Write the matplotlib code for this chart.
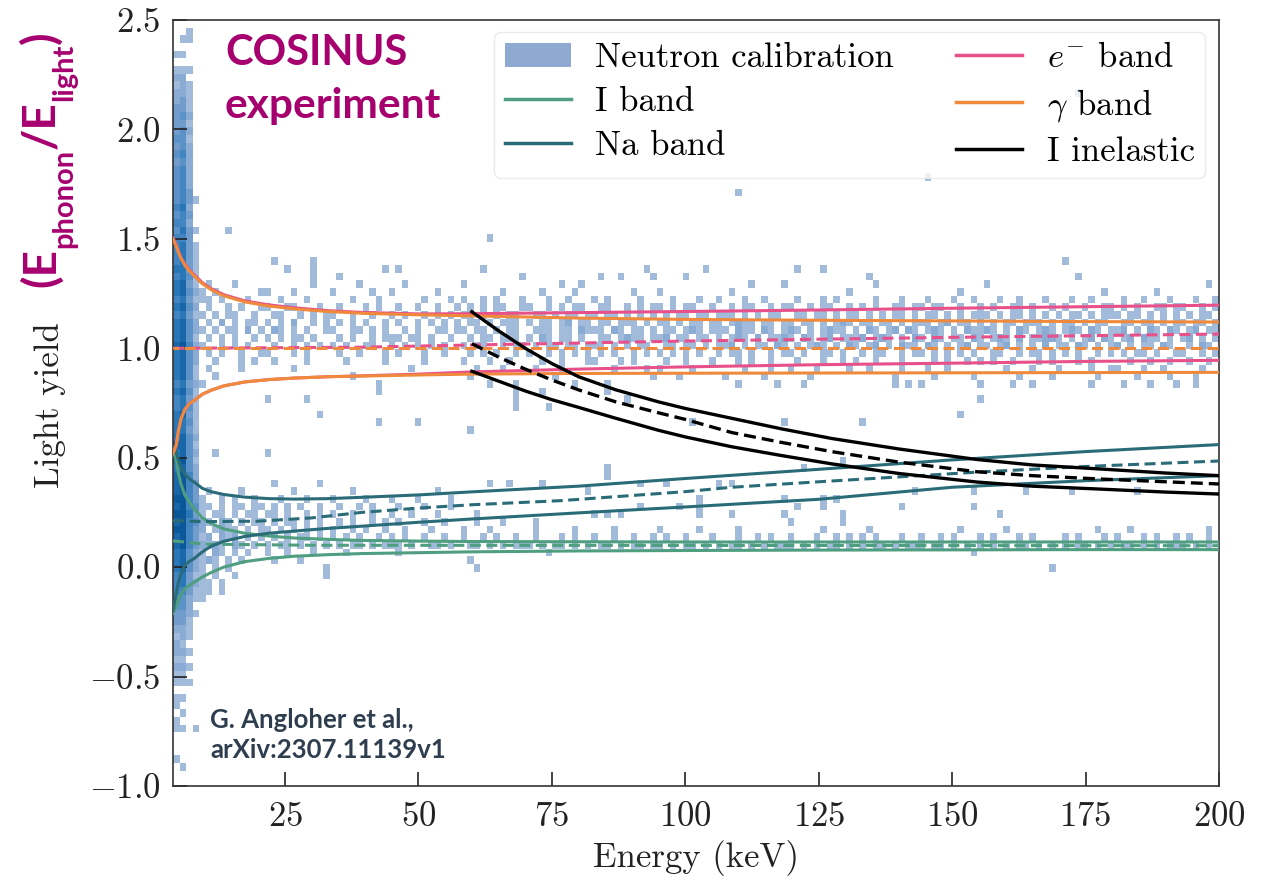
import numpy as np
import matplotlib
matplotlib.use("Agg")
import matplotlib.pyplot as plt
from matplotlib.colors import LinearSegmentedColormap, Normalize
from matplotlib.patches import Patch
from matplotlib.lines import Line2D

plt.rcParams.update({
    "font.family": "serif",
    "font.serif": ["cmr10"],
    "mathtext.fontset": "cm",
    "axes.formatter.use_mathtext": True,
})

# ---------------- neutron calibration histogram (counts per cell) ----------------
E_EDGES = np.linspace(4.0, 200.0, 161)     # 160 energy bins
LY_EDGES = np.linspace(-1.0, 2.5, 101)     # 100 light-yield bins

# columns 0-3 (lowest energies), rows 0..99 from bottom to top
LEFT_STRIP = [
    "...1...11. 11.1121221 2334455566 6778787877 7676766665 5656666766 6565665655 5545454444 4343433332 2121.1....",
    "..1....1.1 .1.1121212 2334456677 7888989888 8787776676 6767777877 7676776666 6565565555 5454443433 2221.1.1..",
    ".......... ...1.1.1.1 1122233344 4555565555 5444443434 3434444544 4343434333 3332323322 2222121211 11.1...11.",
    ".......1.. .......... ..1.112122 2333434333 2212121111 1121122212 2121211111 1.1...1... .......... ..........",
]

# rows of columns 4..159 (groups of ten columns)
BAND_ROWS = {
    72: "....1.....",
    71: ".......... .......... .......... .......... ....1.....",
    68: ".......... .1.....1.. .......... .......... .......... .......... .......... .......... .......... .......... .......... .......... .......... ..1.......",
    67: ".......... ...1...1.. ........1. 1......... ...1...... .......... ........1. .......1.. .......... .1...1....",
    66: ".......... .......1.. .1........ .......... .........1 .......... .1..1....1 ....1..... .......... .......... ..1....... .......... .......... ....1.....",
    65: ".1...1.... .......1.. ....1..... .1........ 1......... .....1..1. .......... .......... ....1....1 .......... ...1...... .......... 1......... .......... .......... ....1.",
    64: "1.1......1 1...1..... 1.....1..1 ......1... ......1... ..1....1.. ......1... 1......... .1........ .........1 .......... ......1... .......... ........1. ......1...",
    63: "11.1...1.. ..1...1... ...1...1.. ....1...1. 1..1.1...1 ...1..1... 1.1....1.. ..1...1..1 ...1..1... .1...1.1.. ...1...1.. .1...1..1. ..1..1...1 ...1..1... .1..1...1. ..1..1",
    62: ".1..1.1..1 1..11...1. .1...1.1.. 1..1..1..1 .1.1.11..1 1..1.1.11. .11..1.1.1 1.1.11..1. .1.11..1.1 1..1.11..1 .1.1..11.1 1.11..1..1 .1..11.1.. 1.1..1..11 .1.1..11.1 1..1.1",
    61: "1.1.11..1. .11..1.1.1 1..1..1..1 .1..1.1.1. 11.1.1.11. .11.1.11.1 1.11.1.1.1 .1.11.11.1 11.1.1.11. .11.11.1.1 1.1.1.11.1 .11.1.1.11 1.1.11.1.1 .1.11.1.11 1.11.1.1.1 .1.11.",
    60: ".1.2.1.11. 1.1.2..1.1 .1.1.1..1. 1..1.1.1.1 .11.1.111. 1.11.12.11 .11.111.1. 11.1.11.11 .1211.11.1 1.11.1.121 .11.11.1.1 11.12.11.1 .1.11.111. 1.11.1.11. .11.11.1.1 1.11.1",
    59: "1.1.11.2.1 .21.1.1..1 1..11.1.1. .1.1..11.1 1.11.1.11. .111.11.21 11.21.11.1 .11.121.11 1.211.21.1 21.1.1211. 1.21.12.21 .121.1.211 21.1.21.12 1.121.21.1 12.1.21.21 .12.11",
    58: ".1.1.1..1. 1.1.11.1.. .1.1..1.11 1.11.1..1. .1.11.111. 1.21.11.1. .11.1211.1 12.11.11.1 .121.2.112 1.21.12.11 12.121.1.2 1.21.11.21 .121.2.112 21.1.12.21 .12.211.1. 12.1.1",
    57: "1..1.1.1.. .1..1.1.1. 1.1..11..1 .1.1.1.1.. 1.11..1.11 .1.11.11.1 11.1.1.11. .11.11.1.1 12.1.11.21 .1.121.1.2 1.12.1.211 .21.1.12.1 1.12.1.1.2 .11.21.1.1 2.1.11.21. .1.21.",
    56: ".1.1..1..1 1...1.1... .1..1...1. 1...1..1.. .1.1.1..1. 1..1.1.1.1 .1.1..1.1. 1.1.1.1..1 .11.1..1.1 1.1..11.1. .1.11..1.1 1.1.1.1.1. .11..1.11. 1.1.1..1.1 .1.11.1..1 1..1.1",
    55: "..1...1.1. .1....1... ..1.....1. ....1..... 1...1..1.. ..1..1...1 1...1.1... .1..1...1. ..1.1..1.. .1...1..1. 1..1...1.. ..1.1..1.1 .1..1...1. 1...1.1... ..1..1..1. .1..1.",
    54: ".1....1... ....1..... .......... ..1....... ..1...1... .1...1.... ...1....1. 1....1.... ...1...1.. 1...1....1 ..1....1.. .1..1..... ...1...1.. .1....1..1 1...1..1.. ...1..",
    53: "..1....... .......... ...1...... .......... .1........ ....1..... .........1 ...1...... 1.....1... ...1...... ......1... ..1.....1. .....1.... 1......1.. ...1....1. ..1...",
    52: "1......... .......... .......1.. .......... ....1...1. .......1.. ..1....... .......... ..1.....1. ..1....... ......1.1. 1........1 ....1..1.. ......1... .1...1...1 ..1...",
    51: ".......... .......... .......1.. .......... ........1. ..1....... ..1.......",
    50: ".......... 1.....1... .......... .......... ........1. .......... .....1.... .......... .......... .......... .......... .........1",
    49: ".......... .......... .......... .......... ........1. ...1......",
    48: ".......... ........1. .......... .......... .......... .......... .......... .......... .......... .......... .......... ......1...",
    47: ".......... .......... .......1.. ...1...... .......... .......... .......... .....1.... .........1 .......... .1........",
    46: ".......... .......... .......... .......... .1........",
    43: "..1....... 1.........",
    42: ".......... .......... .......... .......... .......... .......... .......... .......... .......... ........1.",
    41: ".......... .......... .......... .......... .......... .......... ..1....... .......... .......... ..1.......",
    40: ".......... .......... .......... .......... .......... .......... ..1.......",
    39: ".......... .1......1. .......... .......... ....1..1.. ..1....... .......1.. .1.......1 .1........",
    38: ".1....1... ....1..... ...1...... ......1... .......... .........1 .......... .......... .......... .......... .........1 ........1. ......1... ...1...... ...1......",
    37: "1..1.1..1. ..1...1... 1....1...1 ...1....1. .......... .......... .......... ......1... .........1 .....1.1..",
    36: "11.1.11.11 .1.1.1..1. .1..1.1... 1...1...1. .......... .......... .......1.. ...1..1... .......... .1...1.... .......1.. ........1.",
    35: "1.11.1.11. 11.1..1.1. 1..1..1..1 ..1...1... ..1....... .......... 1.1.1..... ......1... .1.......1 ........1. .......... .......... ..1.......",
    34: "21.21.1.11 .1.11.1.1. .1.1..1.1. 1...1..1.. ..1...1... .1........ .......... .......... .......... 1.......1.",
    33: "2.1211.1.1 1.1.1.1.1. 1..1.1..1. .1...1.... 1...1..... .1.....1.. ...1...... 1.....1... ..1....... .....1.... ..1....... ......1... ...1...... .......1.. ..1....... ....1.",
    32: "12.212.1.1 .1.1.11.1. 1.1.1..1.1 .1..1..1.. 1..1.1..1. .1...1.1.. 1..1..1..1 .1..1...1. ..1..1.1.. 1...1..1.1 .1.1...1.. 1..1.1...1 .1...1.1.. ..1.1...1. 1...1.1..1 .1..1.",
    31: "2121.21.1. 1.11.1.1.1 .1.11.1.11 1.1..11.1. .11.1.1.11 1.1.11.1.1 .11.1.11.1 1.1.11.1.1 .11.1.1.11 1.1.1.11.1 .1.11.1.11 1.11.1.1.1 .1.1.11.1. 1.1.11.1.1 .11.1.1.11 1.1.1.",
    30: "1.21.1.1.. 1..1...1.. ..1....... 1......... .......... ...1...... .......... .......... .......... .......... .......... ........1.",
    29: "121.1.1... .1...1.... .......... .......... .1........",
    28: "1.1.1..... .........1. .......... .......... .1........ .......... .......... .......... .......... .......... .......... .......... .........1",
    27: "1.1..1.... .........1.",
    26: "11.1......",
    25: "11.1......",
    24: "1.........",
}

# isolated cells (column, row)
STRAY_CELLS = [(115, 79), (138, 90), (86, 77)]

# ---------------- band curves (energy in keV, light yield) ----------------
E_BAND = [4.0, 4.6, 5.0, 5.5, 6.2, 7.0, 8.0, 9.5, 11.1, 13.5, 17.4, 22.0, 26.8,
          33.0, 39.3, 50.0, 60.0, 80.0, 100.0, 125.0, 150.0, 175.0, 200.0]

GAMMA_UP = [1.50, 1.466, 1.44, 1.41, 1.38, 1.355, 1.33, 1.295, 1.268, 1.24, 1.212, 1.193, 1.18,
            1.168, 1.16, 1.153, 1.148, 1.138, 1.132, 1.128, 1.125, 1.122, 1.12]
GAMMA_LO = [0.52, 0.556, 0.62, 0.678, 0.72, 0.745, 0.762, 0.79, 0.808, 0.828, 0.846, 0.857, 0.864,
            0.87, 0.873, 0.878, 0.882, 0.885, 0.886, 0.887, 0.888, 0.889, 0.89]
GAMMA_MEAN_E = [4.0, 200.0]
GAMMA_MEAN = [1.0, 1.0]

ELEC_UP = [1.505, 1.471, 1.445, 1.415, 1.385, 1.36, 1.335, 1.30, 1.273, 1.245, 1.217, 1.198, 1.185,
           1.172, 1.164, 1.157, 1.158, 1.163, 1.168, 1.175, 1.183, 1.19, 1.197]
ELEC_LO = [0.52, 0.556, 0.62, 0.678, 0.72, 0.745, 0.762, 0.79, 0.808, 0.828, 0.846, 0.857, 0.864,
           0.87, 0.874, 0.882, 0.892, 0.905, 0.915, 0.925, 0.932, 0.94, 0.945]
ELEC_MEAN_E = [4.0, 39.3, 60.0, 100.0, 150.0, 200.0]
ELEC_MEAN = [1.0, 1.005, 1.015, 1.033, 1.05, 1.065]

IODINE_UP = [0.53, 0.49, 0.43, 0.38, 0.33, 0.30, 0.266, 0.225, 0.20, 0.175, 0.155, 0.142, 0.133,
             0.127, 0.122, 0.119, 0.117, 0.116, 0.115, 0.115, 0.115, 0.115, 0.115]
IODINE_LO = [-0.21, -0.18, -0.15, -0.125, -0.10, -0.085, -0.068, -0.045, -0.025, 0.0, 0.025, 0.04, 0.05,
             0.057, 0.062, 0.066, 0.07, 0.074, 0.076, 0.078, 0.079, 0.08, 0.08]
IODINE_MEAN_E = [4.0, 10.0, 30.0, 200.0]
IODINE_MEAN = [0.12, 0.105, 0.1, 0.098]

SODIUM_UP = [0.55, 0.525, 0.49, 0.455, 0.425, 0.405, 0.388, 0.36, 0.345, 0.332, 0.32, 0.313, 0.311,
             0.313, 0.319, 0.33, 0.344, 0.37, 0.405, 0.447, 0.49, 0.528, 0.56]
SODIUM_LO = [-0.2, -0.12, -0.07, -0.03, 0.01, 0.025, 0.04, 0.07, 0.095, 0.118, 0.14, 0.155, 0.165,
             0.177, 0.187, 0.205, 0.22, 0.248, 0.275, 0.31, 0.365, 0.395, 0.418]
SODIUM_MEAN_E = [4.0, 10.0, 20.0, 30.0, 39.3, 50.0, 60.0, 76.8, 100.0, 108.7, 125.0, 154.6, 175.0, 200.0]
SODIUM_MEAN = [0.212, 0.208, 0.21, 0.225, 0.25, 0.27, 0.285, 0.304, 0.345, 0.365, 0.39, 0.434, 0.46, 0.485]

E_INEL = [60, 65, 70, 75, 80, 87, 95, 100, 108.7, 118, 127.4, 140, 154.6, 165, 177.4, 190, 200]
INEL_UP = [1.167, 1.08, 1.0, 0.93, 0.87, 0.81, 0.755, 0.725, 0.68, 0.632, 0.588, 0.54, 0.492,
           0.467, 0.449, 0.43, 0.418]
INEL_MEAN = [1.021, 0.96, 0.905, 0.855, 0.81, 0.755, 0.705, 0.675, 0.615, 0.57, 0.528, 0.48, 0.436,
             0.418, 0.403, 0.39, 0.38]
INEL_LO = [0.895, 0.85, 0.805, 0.765, 0.73, 0.68, 0.625, 0.595, 0.55, 0.51, 0.472, 0.428, 0.389,
           0.37, 0.357, 0.343, 0.334]

X_TICKS = [25, 50, 75, 100, 125, 150, 175, 200]
Y_TICKS = [-1.0, -0.5, 0.0, 0.5, 1.0, 1.5, 2.0, 2.5]

C_ELEC = "#e8508a"
C_GAMMA = "#ef8a3c"
C_IODINE = "#4f9e80"
C_SODIUM = "#2a6b78"
C_HIST = "#8eaad0"
MAGENTA = "#a6006f"

# ---------------- assemble the count grid ----------------
counts = np.zeros((len(LY_EDGES) - 1, len(E_EDGES) - 1))
for c, col in enumerate(LEFT_STRIP):
    for r, ch in enumerate(col.replace(" ", "")):
        if ch != ".":
            counts[r, c] = int(ch)
for r, row in BAND_ROWS.items():
    for i, ch in enumerate(row.replace(" ", "")[:156]):
        if ch != ".":
            counts[r, 4 + i] = int(ch)
for c, r in STRAY_CELLS:
    counts[r, c] = 1

cmap = LinearSegmentedColormap.from_list(
    "calib", ["#a2bbda", "#789fcd", "#4f8cc4", "#2474b5", "#0b5798"])

fig = plt.figure(figsize=(12.74, 8.84), dpi=100)
ax = fig.add_axes([173 / 1274, 1 - 786 / 884, 1046 / 1274, 766 / 884])

ax.pcolormesh(E_EDGES, LY_EDGES, np.ma.masked_equal(counts, 0), cmap=cmap,
              norm=Normalize(1, 8), shading="flat", zorder=1)

dash = (0, (3.6, 1.8))
lw = 2.2
ax.plot(E_BAND, IODINE_UP, color=C_IODINE, lw=lw, zorder=3)
ax.plot(E_BAND, IODINE_LO, color=C_IODINE, lw=lw, zorder=3)
ax.plot(IODINE_MEAN_E, IODINE_MEAN, color=C_IODINE, lw=lw, ls=dash, zorder=3)
ax.plot(E_BAND, SODIUM_UP, color=C_SODIUM, lw=lw, zorder=3)
ax.plot(E_BAND, SODIUM_LO, color=C_SODIUM, lw=lw, zorder=3)
ax.plot(SODIUM_MEAN_E, SODIUM_MEAN, color=C_SODIUM, lw=lw, ls=dash, zorder=3)
ax.plot(E_BAND, ELEC_UP, color=C_ELEC, lw=lw, zorder=4)
ax.plot(E_BAND, ELEC_LO, color=C_ELEC, lw=lw, zorder=4)
ax.plot(ELEC_MEAN_E, ELEC_MEAN, color=C_ELEC, lw=lw, ls=dash, zorder=4)
ax.plot(E_BAND, GAMMA_UP, color=C_GAMMA, lw=lw, zorder=5)
ax.plot(E_BAND, GAMMA_LO, color=C_GAMMA, lw=lw, zorder=5)
ax.plot(GAMMA_MEAN_E, GAMMA_MEAN, color=C_GAMMA, lw=lw, ls=(1.8, (3.6, 1.8)), zorder=5)
ax.plot(E_INEL, INEL_UP, color="black", lw=2.4, zorder=6)
ax.plot(E_INEL, INEL_MEAN, color="black", lw=2.4, ls=dash, zorder=6)
ax.plot(E_INEL, INEL_LO, color="black", lw=2.4, zorder=6)

ax.set_xlim(4.0, 200.0)
ax.set_ylim(-1.0, 2.5)
ax.set_xticks(X_TICKS)
ax.set_yticks(Y_TICKS)
ax.tick_params(axis="both", direction="in", length=10, width=1.2, labelsize=25, colors="#222222")
ax.tick_params(axis="x", pad=11)
ax.tick_params(axis="y", pad=9)
for s in ax.spines.values():
    s.set_linewidth(1.2)
    s.set_color("#333333")

fig.text(696 / 1274, 1 - 858 / 884, "Energy (keV)", ha="center", va="center", fontsize=25, color="#222222")
fig.text(50 / 1274, 1 - 405 / 884, "Light yield", ha="center", va="center", rotation=90,
         fontsize=25, color="#222222")

handles = [
    Patch(facecolor=C_HIST, edgecolor="none"),
    Line2D([], [], color=C_IODINE, lw=2.5),
    Line2D([], [], color=C_SODIUM, lw=2.5),
    Line2D([], [], color=C_ELEC, lw=2.5),
    Line2D([], [], color=C_GAMMA, lw=2.5),
    Line2D([], [], color="black", lw=2.5),
]
labels = ["Neutron calibration", "I band", "Na band", r"$e^{-}$ band", r"$\gamma$ band", "I inelastic"]
leg = ax.legend(handles, labels, ncol=2, loc="upper right", bbox_to_anchor=(0.9866, 0.9843),
                borderaxespad=0.0, fontsize=25, handlelength=1.9, handletextpad=0.7,
                columnspacing=1.8, labelspacing=0.36, frameon=True, framealpha=0.8,
                edgecolor="0.9", fancybox=True, borderpad=0.3)
leg.set_zorder(10)

# annotations
fig.text(225 / 1274, 1 - 65 / 884, "COSINUS", ha="left", va="baseline", fontsize=30,
         family="Lato", weight="bold", color=MAGENTA)
fig.text(225 / 1274, 1 - 118 / 884, "experiment", ha="left", va="baseline", fontsize=30.5,
         family="Lato", weight="bold", color=MAGENTA)
fig.text(210 / 1274, 1 - 728 / 884, "G. Angloher et al.,", ha="left", va="baseline", fontsize=18.5,
         family="Lato", weight="bold", color="#2f3e4f")
fig.text(210 / 1274, 1 - 758 / 884, "arXiv:2307.11139v1", ha="left", va="baseline", fontsize=18.5,
         family="Lato", weight="bold", color="#2f3e4f")

# rotated magenta axis unit: (E_phonon / E_light)
big = dict(rotation=90, fontsize=33, family="Lato", weight="bold", color=MAGENTA)
small = dict(rotation=90, fontsize=21, family="Lato", weight="bold", color=MAGENTA)
t1 = fig.text(41 / 1274, 1 - 287 / 884, "(E", ha="center", va="bottom", **big)
t2 = ax.annotate("phonon", xy=(1.0, 1.0), xycoords=t1, xytext=(1, 0), textcoords="offset points",
                 ha="center", va="bottom", annotation_clip=False, **small)
t3 = ax.annotate("/E", xy=(0.5, 1.0), xycoords=(t1, t2), ha="center", va="bottom",
                 annotation_clip=False, **big)
t4 = ax.annotate("light", xy=(1.0, 1.0), xycoords=(t1, t3), xytext=(1, 0), textcoords="offset points",
                 ha="center", va="bottom", annotation_clip=False, **small)
t5 = ax.annotate(")", xy=(0.5, 1.0), xycoords=(t1, t4), ha="center", va="bottom",
                 annotation_clip=False, **big)

fig.savefig("out.png", dpi=100)
